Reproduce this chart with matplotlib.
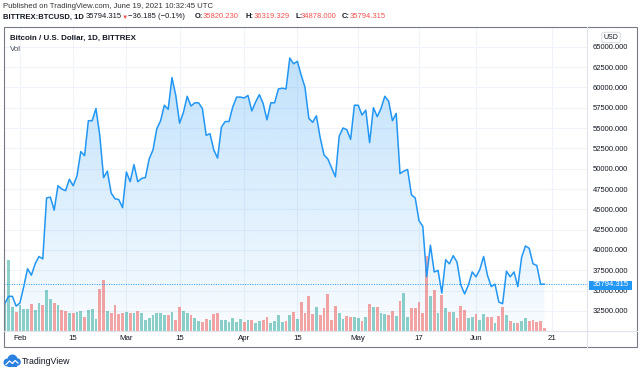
import matplotlib
matplotlib.use("Agg")
import matplotlib.pyplot as plt
import matplotlib.dates as mdates
from matplotlib.patches import Rectangle, Circle
import numpy as np
import pandas as pd

# daily closes, BTCUSD (Bittrex), from Jan 28 2021
close = [33400, 34300, 34300, 33100,
         33500, 35500, 37700, 36900, 38300, 39200, 38900, 46400, 46500, 44900,
         47900, 47500, 47300, 48700, 47900, 49100, 52100, 51600, 55900, 55900,
         57400, 54100, 48900, 49700, 47000, 46300, 46200, 45200,
         49600, 48400, 50500, 48400, 48800, 48900, 51200, 52300, 54900, 55900,
         57800, 57300, 61200, 59000, 55600, 56900, 58900, 57700, 58100, 58100,
         57400, 54100, 54300, 52300, 51300, 55100, 55800, 55800, 57600, 58800, 58800,
         58700, 59000, 57100, 58200, 59100, 58000, 56000, 58100, 58100, 59800,
         59900, 59800, 63600, 62900, 63200, 61500, 60000, 56200, 55700, 56500,
         53800, 51700, 51200, 50100, 49000, 54000, 55000, 54800, 53600, 57800,
         57800, 56600, 57200, 53200, 57500, 56400, 57400, 58900, 58300, 55900,
         56800, 49400, 49700, 49900, 46800, 46400, 43600, 42900, 36700, 40600,
         37300, 37500, 34700, 38800, 38300, 39300, 38500, 35700, 34600, 35700, 37300,
         36700, 37600, 39200, 36900, 35500, 35800, 33600, 33400, 37400, 36700,
         37300, 35500, 39100, 40500, 40200, 38300, 38100, 35800, 35794.315]

# volume (relative units)
volume = [27, 71, 24, 19,
          26, 22, 22, 27, 21, 28, 26, 41, 32, 28, 26, 21, 20, 18, 18, 19, 20, 14,
          21, 22, 12, 42, 51, 20, 18, 26, 17, 18,
          19, 18, 18, 20, 18, 11, 13, 16, 18, 18, 16, 16, 19, 11, 24, 20, 18, 16,
          13, 10, 9, 12, 11, 17, 18, 11, 11, 9, 13, 9, 12,
          9, 11, 11, 8, 10, 11, 14, 8, 10, 16, 9, 10, 16, 19, 12, 29, 18, 35, 17,
          24, 16, 23, 37, 11, 25, 18, 12, 15, 14, 14,
          13, 10, 14, 27, 24, 24, 18, 17, 16, 20, 15, 30, 38, 14, 23, 23, 29, 18,
          75, 35, 41, 18, 36, 23, 19, 19, 13, 25, 21, 13, 14,
          17, 11, 17, 14, 14, 8, 15, 24, 16, 10, 8, 8, 10, 13, 10, 11, 9, 10, 3]

start_date = "2021-01-28"
tick_dates = ["2021-02-01", "2021-02-15", "2021-03-01", "2021-03-15", "2021-04-01",
              "2021-04-15", "2021-05-01", "2021-05-17", "2021-06-01", "2021-06-21"]
tick_labels = ["Feb", "15", "Mar", "15", "Apr", "15", "May", "17", "Jun", "21"]
price_ticks = [32500, 35000, 37500, 40000, 42500, 45000, 47500, 50000,
               52500, 55000, 57500, 60000, 62500, 65000]
last_price = 35794.315

BLUE = "#2196f3"
UP = "#26a69a"
DOWN = "#ef5350"
TXT = "#131722"
FONT = ["Liberation Sans", "DejaVu Sans"]
plt.rcParams["font.family"] = FONT

W, H = 640, 372


def rect(x0, y0, x1, y1):
    # pixel box (top-left origin) -> figure fraction
    return [x0 / W, 1 - y1 / H, (x1 - x0) / W, (y1 - y0) / H]


fig = plt.figure(figsize=(W / 100, H / 100), dpi=100)
fig.patch.set_facecolor("white")

dates = pd.date_range(start_date, periods=len(close), freq="D")
x = mdates.date2num(dates)
xlim = (x[0] - 0.2, x[0] + 153.2)
ylim = (30040, 67420)
pane = rect(4, 27, 587, 331)

###################################################################################################
# background axes: grid + gradient area
ax = fig.add_axes(pane)
ax.set_xlim(*xlim)
ax.set_ylim(*ylim)
for s in ax.spines.values():
    s.set_visible(False)
ax.set_xticks(mdates.date2num(pd.to_datetime(tick_dates)))
ax.set_xticklabels(tick_labels)
ax.set_yticks(price_ticks)
ax.set_yticklabels(["%.3f" % p for p in price_ticks])
ax.yaxis.tick_right()
ax.tick_params(axis="y", length=0, pad=4.3, labelsize=5.5, labelcolor=TXT)
ax.tick_params(axis="x", length=0, pad=3.2, labelsize=5.7, labelcolor=TXT)
ax.grid(True, color="#f0f3fa", lw=0.75, zorder=0)
ax.set_axisbelow(True)

n = 256
alpha = np.linspace(0.03, 0.28, n)
rgba = np.zeros((n, 1, 4))
rgba[:, 0, 0] = 33 / 255
rgba[:, 0, 1] = 150 / 255
rgba[:, 0, 2] = 243 / 255
rgba[:, 0, 3] = alpha
im = ax.imshow(rgba, extent=(x[0], x[-1], ylim[0], max(close)), origin="lower",
               aspect="auto", zorder=1, interpolation="bilinear")
poly = ax.fill_between(x, close, ylim[0], color="none", lw=0)
im.set_clip_path(poly.get_paths()[0], transform=ax.transData)
ax.set_xlim(*xlim)
ax.set_ylim(*ylim)

# volume axes
axv = fig.add_axes(pane, sharex=ax)
axv.patch.set_visible(False)
axv.axis("off")
cols = [UP] + [UP if close[i] >= close[i - 1] else DOWN for i in range(1, len(close))]
axv.bar(x, volume, width=0.72, color=cols, alpha=0.52, lw=0)
axv.set_ylim(0, max(volume) * 4.05)
axv.set_xlim(*xlim)

# price line axes
axl = fig.add_axes(pane, sharex=ax)
axl.patch.set_visible(False)
axl.axis("off")
axl.plot(x, close, color=BLUE, lw=1.1, solid_joinstyle="round")
axl.axhline(last_price, color=BLUE, lw=0.7, ls=(0, (1, 1.5)))
axl.set_xlim(*xlim)
axl.set_ylim(*ylim)

###################################################################################################
# frame and separators
fig.add_artist(Rectangle((4 / W, 1 - 347 / H), 633 / W, 320 / H, transform=fig.transFigure,
                         fill=False, ec="#787b86", lw=0.8))
fig.add_artist(plt.Line2D([587 / W, 587 / W], [1 - 27 / H, 1 - 347 / H], color="#e0e3eb", lw=0.8))
fig.add_artist(plt.Line2D([4 / W, 637 / W], [1 - 331 / H, 1 - 331 / H], color="#e0e3eb", lw=0.8))

# last price tag
fig.add_artist(Rectangle((589 / W, 1 - 289.5 / H), 43 / W, 9 / H, transform=fig.transFigure,
                         fc=BLUE, ec="none"))
fig.text(610.5 / W, 1 - 285 / H, "%.3f" % last_price, color="white", fontsize=5.5,
         ha="center", va="center")
fig.text(611 / W, 1 - 37.5 / H, "USD", color=TXT, fontsize=5, ha="center", va="center",
         bbox=dict(boxstyle="round,pad=0.25", fc="white", ec="#d1d4dc", lw=0.6))

# header
fig.text(3 / W, 1 - 6.5 / H, "Published on TradingView.com, June 19, 2021 10:32:45 UTC",
         color="#333333", fontsize=5.6, va="center")
header = [("BITTREX:BTCUSD, 1D", 3, "bold", TXT, 5.5),
          ("35794.315", 86, "normal", TXT, 5.5),
          ("\u25bc", 121.5, "normal", DOWN, 4.6),
          ("\u221236.185 (\u22120.1%)", 128, "normal", TXT, 5.5),
          ("O:", 195, "bold", TXT, 5.5),
          ("35820.230", 203, "normal", DOWN, 5.5),
          ("H:", 245, "bold", TXT, 5.5),
          ("36319.329", 254, "normal", DOWN, 5.5),
          ("L:", 295, "bold", TXT, 5.5),
          ("34878.000", 301, "normal", DOWN, 5.5),
          ("C:", 342, "bold", TXT, 5.5),
          ("35794.315", 350, "normal", DOWN, 5.5)]
for txt, px, wt, c, fs in header:
    fig.text(px / W, 1 - 17 / H, txt, color=c, fontsize=fs, fontweight=wt, va="center")

fig.text(10 / W, 1 - 38 / H, "Bitcoin / U.S. Dollar, 1D, BITTREX", color=TXT,
         fontsize=5.7, fontweight="bold", va="center")
fig.text(10 / W, 1 - 49.5 / H, "Vol", color="#4c525e", fontsize=5.7, va="center")

# TradingView logo
lax = fig.add_axes(rect(3, 354, 21, 367))
lax.axis("off")
lax.set_xlim(0, 18)
lax.set_ylim(0, 13)
for cx, cy, r in [(4.5, 4.5, 4), (9.5, 7.5, 5), (14, 5, 3.8)]:
    lax.add_patch(Circle((cx, cy), r, color="#2a80e0", lw=0))
lax.add_patch(Rectangle((4.5, 0.5), 9.5, 5, color="#2a80e0", lw=0))
lax.plot([3, 6.5, 9.5, 12, 15], [2.5, 6, 3.5, 6.5, 4], color="white", lw=0.9)
fig.text(22 / W, 1 - 361 / H, "TradingView", color=TXT, fontsize=6.3, va="center")

fig.savefig("out.png", dpi=100)
